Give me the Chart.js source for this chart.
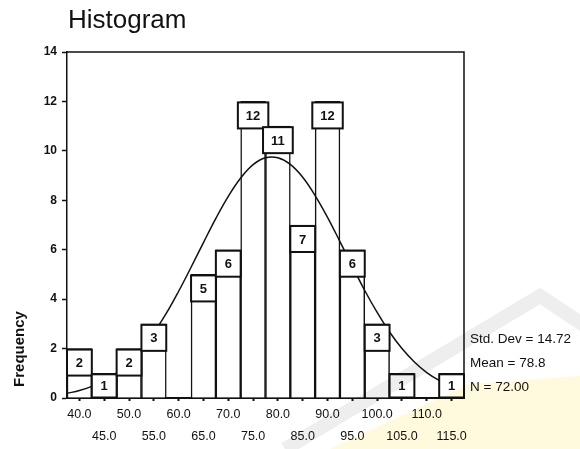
<!DOCTYPE html>
<html>
<head>
<meta charset="utf-8">
<script src="https://cdn.jsdelivr.net/npm/chart.js@4/dist/chart.umd.min.js"></script>
<style>
  html, body { margin:0; padding:0; background:#fff; }
  #wrap { width:580px; height:449px; }
</style>
</head>
<body>
<div id="wrap"><canvas id="hist" width="580" height="449"></canvas></div>
<script>
// histogram bins (bin centres) and counts
const binCenters = [40, 45, 50, 55, 60, 65, 70, 75, 80, 85, 90, 95, 100, 105, 110, 115];
const frequencies = [2, 1, 2, 3, 0, 5, 6, 12, 11, 7, 12, 6, 3, 1, 0, 1];
const xTickLabels = ['40.0','45.0','50.0','55.0','60.0','65.0','70.0','75.0','80.0','85.0','90.0','95.0','100.0','105.0','110.0','115.0'];
const yTicks = [0, 2, 4, 6, 8, 10, 12, 14];

// fitted normal curve, read at every 2.5 units
const curveX = [37.5,40,42.5,45,47.5,50,52.5,55,57.5,60,62.5,65,67.5,70,72.5,75,77.5,80,82.5,85,87.5,90,92.5,95,97.5,100,102.5,105,107.5,110,112.5,115,117.5];
const curveY = [0.19,0.30,0.47,0.70,1.02,1.44,1.98,2.64,3.42,4.32,5.29,6.29,7.27,8.16,8.90,9.44,9.72,9.72,9.45,8.93,8.19,7.31,6.33,5.33,4.35,3.46,2.67,2.00,1.46,1.03,0.71,0.47,0.31];

const statLines = ['Std. Dev = 14.72', 'Mean = 78.8', 'N = 72.00'];
const FONT = '"Liberation Sans", Arial, sans-serif';

const extras = {
  id: 'spssExtras',
  beforeDraw(chart){
    const c = chart.ctx;
    c.save(); c.fillStyle = '#fff'; c.fillRect(0, 0, chart.width, chart.height); c.restore();
  },
  afterDatasetsDraw(chart){
    // value boxes on top of each bar (they hide the curve, like SPSS)
    const c = chart.ctx;
    const meta = chart.getDatasetMeta(1);
    c.save();
    c.font = 'bold 13px ' + FONT;
    c.textAlign = 'center'; c.textBaseline = 'middle';
    meta.data.forEach((el, i) => {
      const v = frequencies[i];
      if(!v) return;
      const txt = String(v);
      const w = Math.max(el.width, c.measureText(txt).width + 16);
      const top = el.y + 1, h = Math.min(26, el.base - top);
      c.fillStyle = '#fff';
      c.fillRect(el.x - w/2, top, w, h);
      c.lineWidth = 2; c.strokeStyle = '#111';
      c.strokeRect(el.x - w/2, top, w, h);
      c.fillStyle = '#111';
      c.fillText(txt, el.x, top + h/2 + 1);
    });
    c.restore();
  },
  afterDraw(chart){
    const c = chart.ctx, a = chart.chartArea;
    c.save();
    // frame
    c.strokeStyle = '#111'; c.lineWidth = 1.5;
    c.beginPath();
    c.moveTo(a.left, a.top); c.lineTo(a.right, a.top); c.lineTo(a.right, a.bottom);
    c.stroke();
    // title
    c.fillStyle = '#111';
    c.font = '26px ' + FONT;
    c.textAlign = 'left'; c.textBaseline = 'alphabetic';
    c.fillText('Histogram', 68, 28);
    // stats
    c.font = '13.5px ' + FONT;
    statLines.forEach((t, i) => c.fillText(t, 470, 343 + i*24));
    // y axis title
    c.font = 'bold 15px ' + FONT;
    c.translate(24, 349); c.rotate(-Math.PI/2);
    c.textAlign = 'center'; c.textBaseline = 'alphabetic';
    c.fillText('Frequency', 0, 0);
    c.restore();

    // faint watermark in the lower right corner
    c.save();
    c.globalCompositeOperation = 'multiply';
    c.fillStyle = 'rgba(255,246,200,0.6)';
    c.beginPath();
    c.moveTo(330, 449); c.lineTo(470, 384); c.lineTo(580, 376); c.lineTo(580, 449); c.closePath();
    c.fill();
    c.strokeStyle = 'rgba(205,205,205,0.35)'; c.lineWidth = 14; c.lineJoin = 'miter';
    c.beginPath();
    c.moveTo(285, 449); c.lineTo(540, 296); c.lineTo(585, 326);
    c.stroke();
    c.restore();
  }
};

new Chart(document.getElementById('hist'), {
  type: 'bar',
  data: {
    datasets: [
      {
        type: 'line',
        data: curveX.map((x, i) => ({ x, y: curveY[i] })),
        borderColor: '#111', borderWidth: 1.5,
        pointRadius: 0, tension: 0.4, fill: false
      },
      {
        type: 'bar',
        data: binCenters.map((x, i) => ({ x, y: frequencies[i] })),
        backgroundColor: '#fff', borderColor: '#111', borderWidth: 1.5,
        barPercentage: 1, categoryPercentage: 1
      }
    ]
  },
  options: {
    responsive: false,
    animation: false,
    layout: { padding: { left: 0, top: 52, right: 116, bottom: 0 } },
    plugins: { legend: { display: false }, tooltip: { enabled: false }, title: { display: false } },
    scales: {
      x: {
        type: 'linear', min: 37.5, max: 117.5, offset: false,
        afterBuildTicks: s => { s.ticks = binCenters.map(v => ({ value: v })); },
        afterFit: s => { s.height = 51; },
        border: { color: '#111', width: 2 },
        grid: { drawOnChartArea: false, tickLength: 3, color: '#111', tickWidth: 2, offset: false },
        ticks: {
          autoSkip: false, maxRotation: 0, padding: 3, color: '#111',
          font: { family: FONT, size: 12.5, lineHeight: '21.5px' },
          callback: (v, i) => i % 2 === 0 ? [xTickLabels[i], ''] : ['', xTickLabels[i]]
        }
      },
      y: {
        min: 0, max: 14,
        afterBuildTicks: s => { s.ticks = yTicks.map(v => ({ value: v })); },
        afterFit: s => { s.width = 67; },
        border: { color: '#111', width: 1.5 },
        grid: { drawOnChartArea: false, tickLength: 5, color: '#111', tickWidth: 1.5 },
        ticks: { padding: 5, color: '#111', font: { family: FONT, size: 12, weight: 'bold' } }
      }
    }
  },
  plugins: [extras]
});
</script>
</body>
</html>
